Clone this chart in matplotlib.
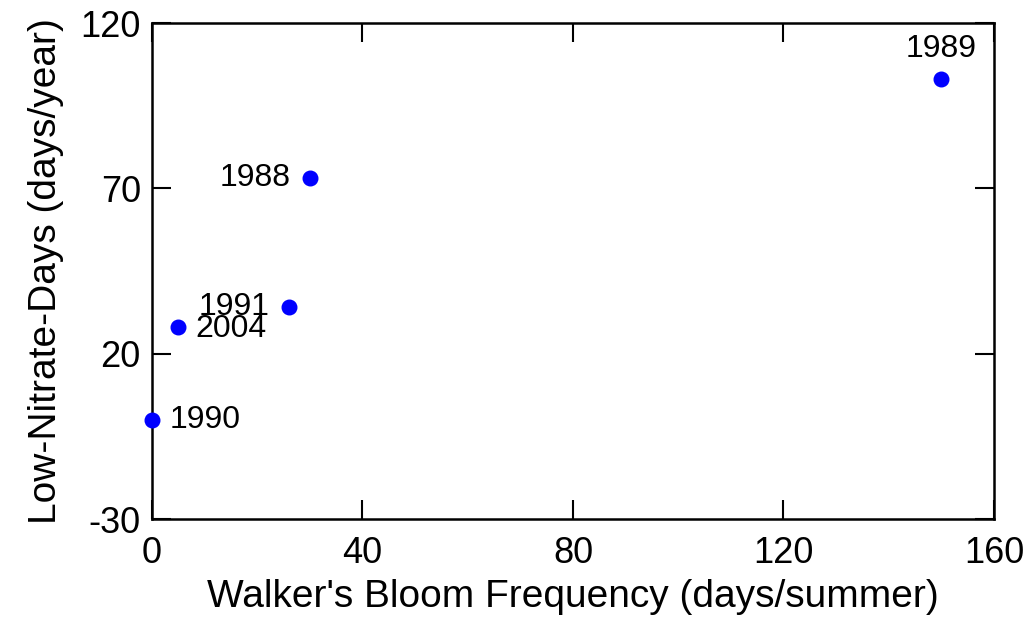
import matplotlib
matplotlib.use('Agg')
import matplotlib.pyplot as plt

plt.rcParams['font.family'] = ['Liberation Sans', 'DejaVu Sans']
plt.rcParams['axes.unicode_minus'] = False

# data
years = ['1988', '1989', '1990', '1991', '2004']
bloom_freq = [30, 150, 0, 26, 5]
low_nitrate = [73, 103, 0, 34, 28]

# label placement (offset in points, alignment)
label_pos = {
    '1988': ((-14, 0), 'right', 'center'),
    '1989': ((0, 16), 'center', 'baseline'),
    '1990': ((13, 0), 'left', 'center'),
    '1991': ((-14, 0), 'right', 'center'),
    '2004': ((12, -1), 'left', 'center'),
}

fig = plt.figure(figsize=(10.31, 6.27), dpi=100)
ax = fig.add_axes([0.1474, 0.1722, 0.8167, 0.7911])

ax.scatter(bloom_freq, low_nitrate, s=110, color='#0000ff', zorder=3, clip_on=False)

for yr, x, y in zip(years, bloom_freq, low_nitrate):
    off, ha, va = label_pos[yr]
    ax.annotate(yr, (x, y), xytext=off, textcoords='offset points',
                ha=ha, va=va, fontsize=23)

ax.set_xlim(0, 160)
ax.set_ylim(-30, 120)
ax.set_xticks([0, 40, 80, 120, 160])
ax.set_yticks([-30, 20, 70, 120])

ax.tick_params(direction='in', length=14, width=1.5, top=True, right=True,
               labelsize=26)
ax.tick_params(axis='x', pad=12)
ax.tick_params(axis='y', pad=8)
for sp in ax.spines.values():
    sp.set_linewidth(1.8)

ax.set_xlabel("Walker's Bloom Frequency (days/summer)", fontsize=28, labelpad=6)
ax.set_ylabel('Low-Nitrate-Days (days/year)', fontsize=28, labelpad=12)

fig.savefig('out.png', dpi=100)
